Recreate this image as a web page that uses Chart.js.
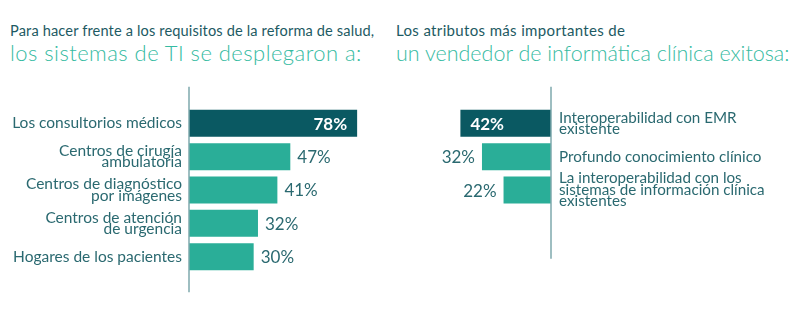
<!DOCTYPE html>
<html lang="es">
<head>
<meta charset="utf-8">
<script src="https://cdn.jsdelivr.net/npm/chart.js@4.4.1/dist/chart.umd.min.js"></script>
<style>
  body { margin: 0; background: #fff; width: 792px; height: 333px; position: relative; overflow: hidden; font-family: Lato, sans-serif; }
  .titulo { position: absolute; top: 22px; white-space: nowrap; }
  .titulo .l1 { display: block; font-size: 14.6px; line-height: 17px; color: #1d5a63; }
  .titulo .l2 { display: block; font-size: 22px; line-height: 28px; font-weight: 300; color: #36bba2; }
</style>
</head>
<body>
<div class="titulo" style="left:10px">
  <span class="l1" style="letter-spacing:0.14px">Para hacer frente a los requisitos de la reforma de salud,</span>
  <span class="l2" style="letter-spacing:0.45px">los sistemas de TI se desplegaron a:</span>
</div>
<div class="titulo" style="left:396px">
  <span class="l1" style="font-size:15px;letter-spacing:0.35px">Los atributos más importantes de</span>
  <span class="l2" style="font-size:21.5px">un vendedor de informática clínica exitosa:</span>
</div>
<canvas id="grafico1" style="position:absolute;top:0;left:0px" width="383" height="333"></canvas>
<canvas id="grafico2" style="position:absolute;top:0;left:400px" width="392" height="333"></canvas>
<script>
// sistemas de TI desplegados (%)
const lugares = [
    'Los consultorios médicos',
    ['Centros de cirugía', 'ambulatoria'],
    ['Centros de diagnóstico', 'por imágenes'],
    ['Centros de atención', 'de urgencia'],
    'Hogares de los pacientes'
];
const pct_lugares = [78, 47, 41, 32, 30];

// atributos del vendedor (%)
const atributos = [
    ['Interoperabilidad con EMR', 'existente'],
    'Profundo conocimiento clínico',
    ['La interoperabilidad con los', 'sistemas de información clínica', 'existentes']
];
const pct_atributos = [42, 32, 22];

const oscuro = '#0a5962';
const turquesa = '#2aae98';
const texto = '#2a6970';

Chart.defaults.font.family = 'Lato, sans-serif';
Chart.defaults.animation = false;

// linea vertical del eje en el cero, un poco mas larga que las barras
const lineaEje = {
    id: 'lineaEje',
    afterDatasetsDraw(chart, args, opts) {
        const ctx = chart.ctx;
        const x = chart.scales.x.getPixelForValue(0);
        ctx.save();
        ctx.strokeStyle = '#7ea8ad';
        ctx.lineWidth = 1.5;
        ctx.beginPath();
        ctx.moveTo(x, chart.chartArea.top - opts.arriba);
        ctx.lineTo(x, chart.chartArea.bottom + opts.abajo);
        ctx.stroke();
        ctx.restore();
    }
};

// porcentajes: dentro de la barra destacada, fuera en las demas
const valores = {
    id: 'valores',
    afterDatasetsDraw(chart, args, opts) {
        const ctx = chart.ctx;
        const meta = chart.getDatasetMeta(0);
        const datos = chart.data.datasets[0].data;
        const dir = opts.invertido ? -1 : 1;
        ctx.save();
        ctx.textBaseline = 'middle';
        meta.data.forEach(function (barra, i) {
            const etiqueta = datos[i] + '%';
            if (i === 0) {
                ctx.font = 'bold 17px Lato, sans-serif';
                ctx.fillStyle = '#ffffff';
                ctx.textAlign = opts.invertido ? 'left' : 'right';
                ctx.fillText(etiqueta, barra.x - dir * 10, barra.y + 1);
            } else {
                ctx.font = '17px Lato, sans-serif';
                ctx.fillStyle = texto;
                ctx.textAlign = opts.invertido ? 'right' : 'left';
                ctx.fillText(etiqueta, barra.x + dir * 7, barra.y + 1);
            }
        });
        ctx.restore();
    }
};

function opcionesEje(ancho, posicion, padding, tam) {
    return {
        position: posicion,
        afterFit: function (scale) { scale.width = ancho; },
        grid: { display: false, drawTicks: false },
        border: { display: false },
        ticks: {
            color: texto,
            padding: padding,
            autoSkip: false,
            font: { size: tam, lineHeight: '11.5px' }
        }
    };
}

new Chart(document.getElementById('grafico1'), {
    type: 'bar',
    data: {
        labels: lugares,
        datasets: [{
            data: pct_lugares,
            backgroundColor: [oscuro, turquesa, turquesa, turquesa, turquesa],
            barPercentage: 0.81,
            categoryPercentage: 1
        }]
    },
    options: {
        indexAxis: 'y',
        responsive: false,
        layout: { padding: { top: 106.7, bottom: 59.7, left: 0, right: 0 } },
        scales: {
            x: { display: false, min: 0, max: 90 },
            y: opcionesEje(189, 'left', 7, 15.5)
        },
        plugins: {
            legend: { display: false },
            tooltip: { enabled: false },
            lineaEje: { arriba: 20, abajo: 19 },
            valores: { invertido: false }
        }
    },
    plugins: [lineaEje, valores]
});

new Chart(document.getElementById('grafico2'), {
    type: 'bar',
    data: {
        labels: atributos,
        datasets: [{
            data: pct_atributos,
            backgroundColor: [oscuro, turquesa, turquesa],
            barPercentage: 0.81,
            categoryPercentage: 1
        }]
    },
    options: {
        indexAxis: 'y',
        responsive: false,
        layout: { padding: { top: 106.7, bottom: 126.3, left: 0, right: 0 } },
        scales: {
            x: { display: false, min: 0, max: 70, reverse: true },
            y: opcionesEje(241, 'right', 8, 15.2)
        },
        plugins: {
            legend: { display: false },
            tooltip: { enabled: false },
            lineaEje: { arriba: 20, abajo: 52 },
            valores: { invertido: true }
        }
    },
    plugins: [lineaEje, valores]
});
</script>
</body>
</html>
